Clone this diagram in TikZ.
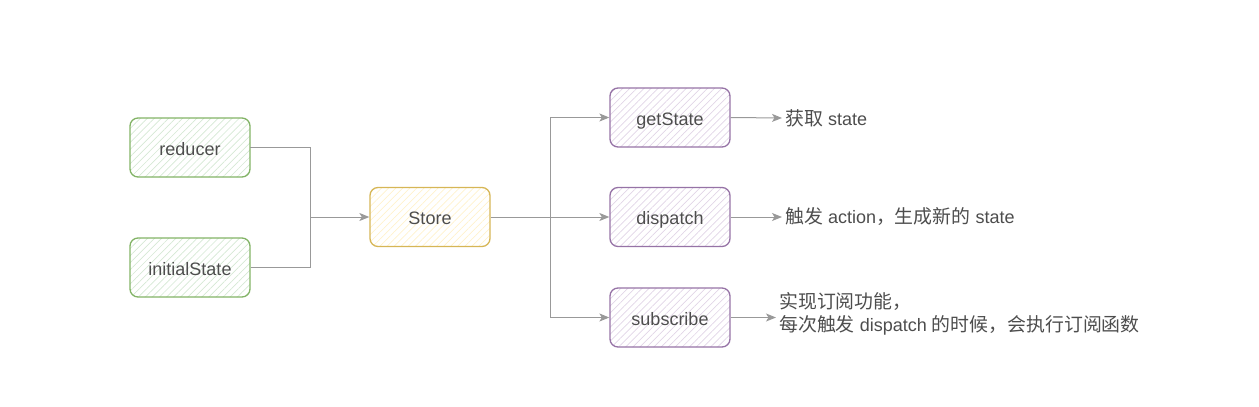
\documentclass[tikz,border=0pt]{standalone}
\usepackage{fontspec}
\setmainfont{Liberation Sans}
\newfontfamily\cjk{Noto Sans CJK SC}[Scale=1.05]
\usetikzlibrary{patterns.meta,arrows.meta}
\definecolor{txt}{HTML}{4D4D4D}
\definecolor{gstroke}{HTML}{82B366}
\definecolor{gfill}{HTML}{D5E8D4}
\definecolor{ystroke}{HTML}{D6B656}
\definecolor{yfill}{HTML}{FFF2CC}
\definecolor{pstroke}{HTML}{9673A6}
\definecolor{pfill}{HTML}{E1D5E7}
\definecolor{conncol}{HTML}{999999}
\tikzset{
  basebox/.style={rectangle, rounded corners=8pt, minimum width=120pt, minimum height=59pt,
    line width=1.3pt, text=txt, font=\fontsize{18}{21}\selectfont, inner sep=0pt,
    text height=15pt, text depth=0pt},
  gbox/.style={basebox, draw=gstroke, pattern={Lines[angle=45,distance=5pt,line width=0.7pt]}, pattern color=gfill},
  ybox/.style={basebox, draw=ystroke, pattern={Lines[angle=45,distance=5pt,line width=0.7pt]}, pattern color=yfill},
  pbox/.style={basebox, draw=pstroke, pattern={Lines[angle=45,distance=5pt,line width=0.7pt]}, pattern color=pfill},
  conn/.style={draw=conncol, line width=1pt},
  arr/.style={conn, -{Stealth[length=10pt,width=8pt,inset=2.5pt]}},
  lbl/.style={text=txt, font=\fontsize{18}{22.5}\selectfont, inner xsep=3pt, inner ysep=0pt, align=left}
}
\begin{document}
\begin{tikzpicture}[x=1pt,y=-1pt]
\useasboundingbox (0,0) rectangle (1259,407);
\node[gbox] (reducer) at (190,147.5) {reducer};
\node[gbox] (initialState) at (190,267.5) {initialState};
\node[ybox] (store) at (430,217) {Store};
\node[pbox] (getState) at (670,117.5) {getState};
\node[pbox] (dispatch) at (670,217) {dispatch};
\node[pbox] (subscribe) at (670,317.5) {subscribe};
\coordinate (j1) at (310,217);
\coordinate (j2) at (550,217);
\draw[conn] (reducer.east) -| (j1);
\draw[conn] (initialState.east) -| (j1);
\draw[arr] (j1) -- (store.west);
\draw[arr] (store.east) -- (dispatch.west);
\draw[arr] (j2) |- (getState.west);
\draw[arr] (j2) |- (subscribe.west);
\node[lbl, anchor=west] (t1) at (782,118) {{\cjk 获取} state};
\node[lbl, anchor=west] (t2) at (782,217) {{\cjk 触发} action{\cjk ，生成新的} state};
\node[lbl, anchor=west] (t3) at (776,314) {{\cjk 实现订阅功能，}\\{\cjk 每次触发} dispatch {\cjk 的时候，会执行订阅函数}};
\draw[arr] (getState.east) -- (t1.west);
\draw[arr] (dispatch.east) -- (t2.west);
\draw[arr] (subscribe.east) -- (subscribe.east -| t3.west);
\end{tikzpicture}
\end{document}
